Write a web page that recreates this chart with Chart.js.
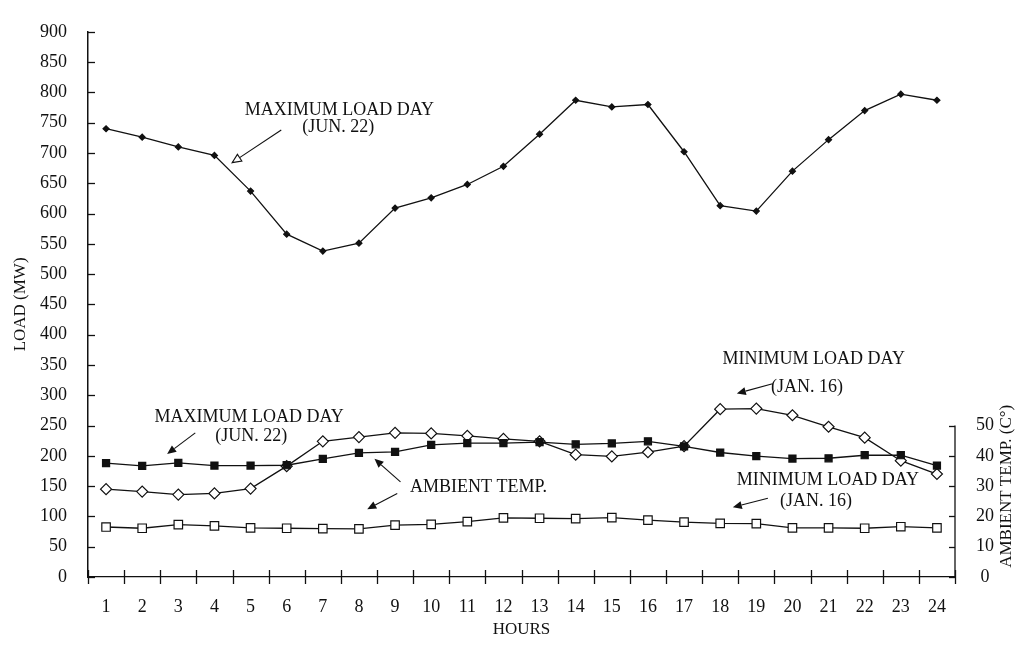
<!DOCTYPE html>
<html>
<head>
<meta charset="utf-8">
<script src="https://cdn.jsdelivr.net/npm/chart.js@4/dist/chart.umd.min.js"></script>
<style>
  html, body { margin: 0; padding: 0; background: #ffffff; }
  #wrap { width: 1022px; height: 646px; }
</style>
</head>
<body>
<div id="wrap"><canvas id="c" width="1022" height="646"></canvas></div>
<script>
// Hourly data, 1..24
const hours = ['1','2','3','4','5','6','7','8','9','10','11','12','13','14','15','16','17','18','19','20','21','22','23','24'];

// Load (MW) on the maximum load day, Jun. 22
const maxDayLoad = [740, 726, 710, 696, 637, 566, 538, 551, 609, 626, 648, 678, 731, 787, 776, 780, 702, 613, 604, 670, 722, 770, 797, 787];
// Ambient temperature (°C) on the maximum load day
const maxDayTemp = [37.6, 36.7, 37.7, 36.8, 36.8, 36.9, 39.0, 41.0, 41.3, 43.6, 44.2, 44.2, 44.5, 43.8, 44.1, 44.8, 43.1, 41.1, 39.9, 39.1, 39.2, 40.2, 40.2, 36.8];
// Load (MW) on the minimum load day, Jan. 16
const minDayLoad = [145, 141, 136, 138, 146, 183, 224, 231, 238, 237, 233, 228, 224, 202, 199, 206, 216, 277, 278, 267, 248, 230, 192, 170];
// Ambient temperature (°C) on the minimum load day
const minDayTemp = [16.5, 16.1, 17.3, 16.9, 16.2, 16.1, 16.0, 15.9, 17.1, 17.4, 18.3, 19.5, 19.4, 19.3, 19.6, 18.8, 18.1, 17.7, 17.6, 16.2, 16.2, 16.1, 16.6, 16.2];

// Axis tick values
const loadTicks = [0, 50, 100, 150, 200, 250, 300, 350, 400, 450, 500, 550, 600, 650, 700, 750, 800, 850, 900];
const tempTicks = [0, 10, 20, 30, 40, 50];

const INK = '#111111';
const SERIF = '"Liberation Serif", "Times New Roman", serif';

// Callout labels: text anchored at (hour, MW); arrows run from -> to in the same units
const callouts = [
  { lines: [['MAXIMUM LOAD DAY', 7.46, 770], ['(JUN. 22)', 7.43, 743]],
    arrows: [{ from: [5.85, 738], to: [4.49, 684], open: true }] },
  { lines: [['MAXIMUM LOAD DAY', 4.96, 263], ['(JUN. 22)', 5.02, 232]],
    arrows: [{ from: [3.47, 238], to: [2.69, 203] }] },
  { lines: [['AMBIENT TEMP.', 11.31, 148]],
    arrows: [{ from: [9.15, 157], to: [8.43, 195] }, { from: [9.06, 138], to: [8.23, 112] }] },
  { lines: [['MINIMUM LOAD DAY', 20.59, 360], ['(JAN. 16)', 20.4, 313]],
    arrows: [{ from: [19.45, 319], to: [18.46, 303] }] },
  { lines: [['MINIMUM LOAD DAY', 20.98, 160], ['(JAN. 16)', 20.65, 125]],
    arrows: [{ from: [19.32, 130], to: [18.35, 115] }] }
];

function arrow(ctx, x1, y1, x2, y2, open) {
  const ang = Math.atan2(y2 - y1, x2 - x1);
  const len = 9, half = 4;
  const bx = x2 - Math.cos(ang) * len, by = y2 - Math.sin(ang) * len;
  ctx.beginPath();
  ctx.moveTo(x1, y1);
  ctx.lineTo(bx, by);
  ctx.stroke();
  ctx.beginPath();
  ctx.moveTo(x2, y2);
  ctx.lineTo(bx + Math.sin(ang) * half, by - Math.cos(ang) * half);
  ctx.lineTo(bx - Math.sin(ang) * half, by + Math.cos(ang) * half);
  ctx.closePath();
  if (open) { ctx.fillStyle = '#ffffff'; ctx.fill(); ctx.stroke(); }
  else { ctx.fillStyle = INK; ctx.fill(); }
}

// Tick marks (inward on the value axes, crossing on the hour axis),
// the short temperature axis on the right, its title, and the callouts.
const axisMarks = {
  id: 'axisMarks',
  afterDatasetsDraw(chart) {
    const ctx = chart.ctx;
    const x = chart.scales.x, yL = chart.scales.yLoad, yT = chart.scales.yTemp;
    const area = chart.chartArea;
    ctx.save();
    ctx.strokeStyle = INK;
    ctx.lineWidth = 1.3;

    // left axis ticks, pointing into the plot
    yL.ticks.forEach(t => {
      const py = Math.round(yL.getPixelForValue(t.value)) + 0.5;
      ctx.beginPath(); ctx.moveTo(area.left, py); ctx.lineTo(area.left + 7, py); ctx.stroke();
    });

    // hour axis ticks at category boundaries, crossing the axis line
    for (let i = 0; i <= hours.length; i++) {
      const px = Math.round(x.getPixelForValue(i - 0.5)) + 0.5;
      ctx.beginPath(); ctx.moveTo(px, area.bottom - 7); ctx.lineTo(px, area.bottom + 7); ctx.stroke();
    }

    // right temperature axis: line from 0 to 50 and inward ticks
    const rx = area.right;
    ctx.beginPath();
    ctx.moveTo(rx, yT.getPixelForValue(tempTicks[0]));
    ctx.lineTo(rx, yT.getPixelForValue(tempTicks[tempTicks.length - 1]));
    ctx.stroke();
    tempTicks.forEach(v => {
      const py = Math.round(yT.getPixelForValue(v)) + 0.5;
      ctx.beginPath(); ctx.moveTo(rx, py); ctx.lineTo(rx - 6, py); ctx.stroke();
    });

    // right axis title, reading bottom to top
    ctx.fillStyle = INK;
    ctx.font = '17px ' + SERIF;
    ctx.textAlign = 'center';
    ctx.textBaseline = 'middle';
    ctx.save();
    ctx.translate(1007, yT.getPixelForValue(25) - 15);
    ctx.rotate(-Math.PI / 2);
    ctx.fillText('AMBIENT TEMP. (C°)', 0, 0);
    ctx.restore();

    // callouts
    ctx.font = '18px ' + SERIF;
    ctx.lineWidth = 1.1;
    const px = h => x.getPixelForValue(h - 1);
    const py = v => yL.getPixelForValue(v);
    callouts.forEach(c => {
      c.lines.forEach(([txt, h, v]) => { ctx.fillStyle = INK; ctx.fillText(txt, px(h), py(v)); });
      c.arrows.forEach(a => arrow(ctx, px(a.from[0]), py(a.from[1]), px(a.to[0]), py(a.to[1]), a.open));
    });
    ctx.restore();
  }
};

const lineBase = { borderColor: INK, borderWidth: 1.3, tension: 0, pointBorderColor: INK, pointBorderWidth: 1.2, pointHoverRadius: 0 };

new Chart(document.getElementById('c'), {
  type: 'line',
  data: {
    labels: hours,
    datasets: [
      Object.assign({}, lineBase, { label: 'Load, maximum load day (Jun. 22)', data: maxDayLoad, yAxisID: 'yLoad',
        pointStyle: 'rectRot', pointRadius: 3, pointBackgroundColor: INK }),
      Object.assign({}, lineBase, { label: 'Ambient temp., maximum load day (Jun. 22)', data: maxDayTemp, yAxisID: 'yTemp',
        pointStyle: 'rect', pointRadius: 5, pointBackgroundColor: INK }),
      Object.assign({}, lineBase, { label: 'Load, minimum load day (Jan. 16)', data: minDayLoad, yAxisID: 'yLoad',
        pointStyle: 'rectRot', pointRadius: 5.5, pointBackgroundColor: '#ffffff' }),
      Object.assign({}, lineBase, { label: 'Ambient temp., minimum load day (Jan. 16)', data: minDayTemp, yAxisID: 'yTemp',
        pointStyle: 'rect', pointRadius: 6, pointBackgroundColor: '#ffffff' })
    ]
  },
  options: {
    responsive: false,
    animation: false,
    devicePixelRatio: 1,
    layout: { padding: { top: 22, right: 0, bottom: 0, left: 0 } },
    plugins: { legend: { display: false }, tooltip: { enabled: false } },
    scales: {
      x: {
        type: 'category',
        offset: true,
        grid: { display: false, drawTicks: false },
        border: { display: true, color: INK, width: 1.3 },
        ticks: { color: INK, font: { family: SERIF, size: 18 }, padding: 19, autoSkip: false, maxRotation: 0 },
        title: { display: true, text: 'HOURS', color: INK, font: { family: SERIF, size: 17 }, padding: { top: 0, bottom: 6 } },
        afterFit(s) { s.height = 69; }
      },
      yLoad: {
        type: 'linear',
        position: 'left',
        min: 0, max: 900,
        afterBuildTicks(s) { s.ticks = loadTicks.map(v => ({ value: v })); },
        grid: { display: false, drawTicks: false },
        border: { display: true, color: INK, width: 1.5 },
        ticks: { color: INK, font: { family: SERIF, size: 18 }, padding: 21 },
        title: { display: true, text: 'LOAD (MW)', color: INK, font: { family: SERIF, size: 17 }, padding: { top: 10, bottom: 0 } },
        afterFit(s) { s.width = 88; }
      },
      yTemp: {
        type: 'linear',
        position: 'right',
        // 50 °C sits level with 250 MW
        min: 0, max: 180,
        afterBuildTicks(s) { s.ticks = tempTicks.map(v => ({ value: v })); },
        grid: { display: false, drawTicks: false },
        border: { display: false },
        ticks: { color: INK, font: { family: SERIF, size: 18 }, padding: 21, crossAlign: 'center' },
        afterFit(s) { s.width = 67; }
      }
    }
  },
  plugins: [axisMarks]
});
</script>
</body>
</html>
